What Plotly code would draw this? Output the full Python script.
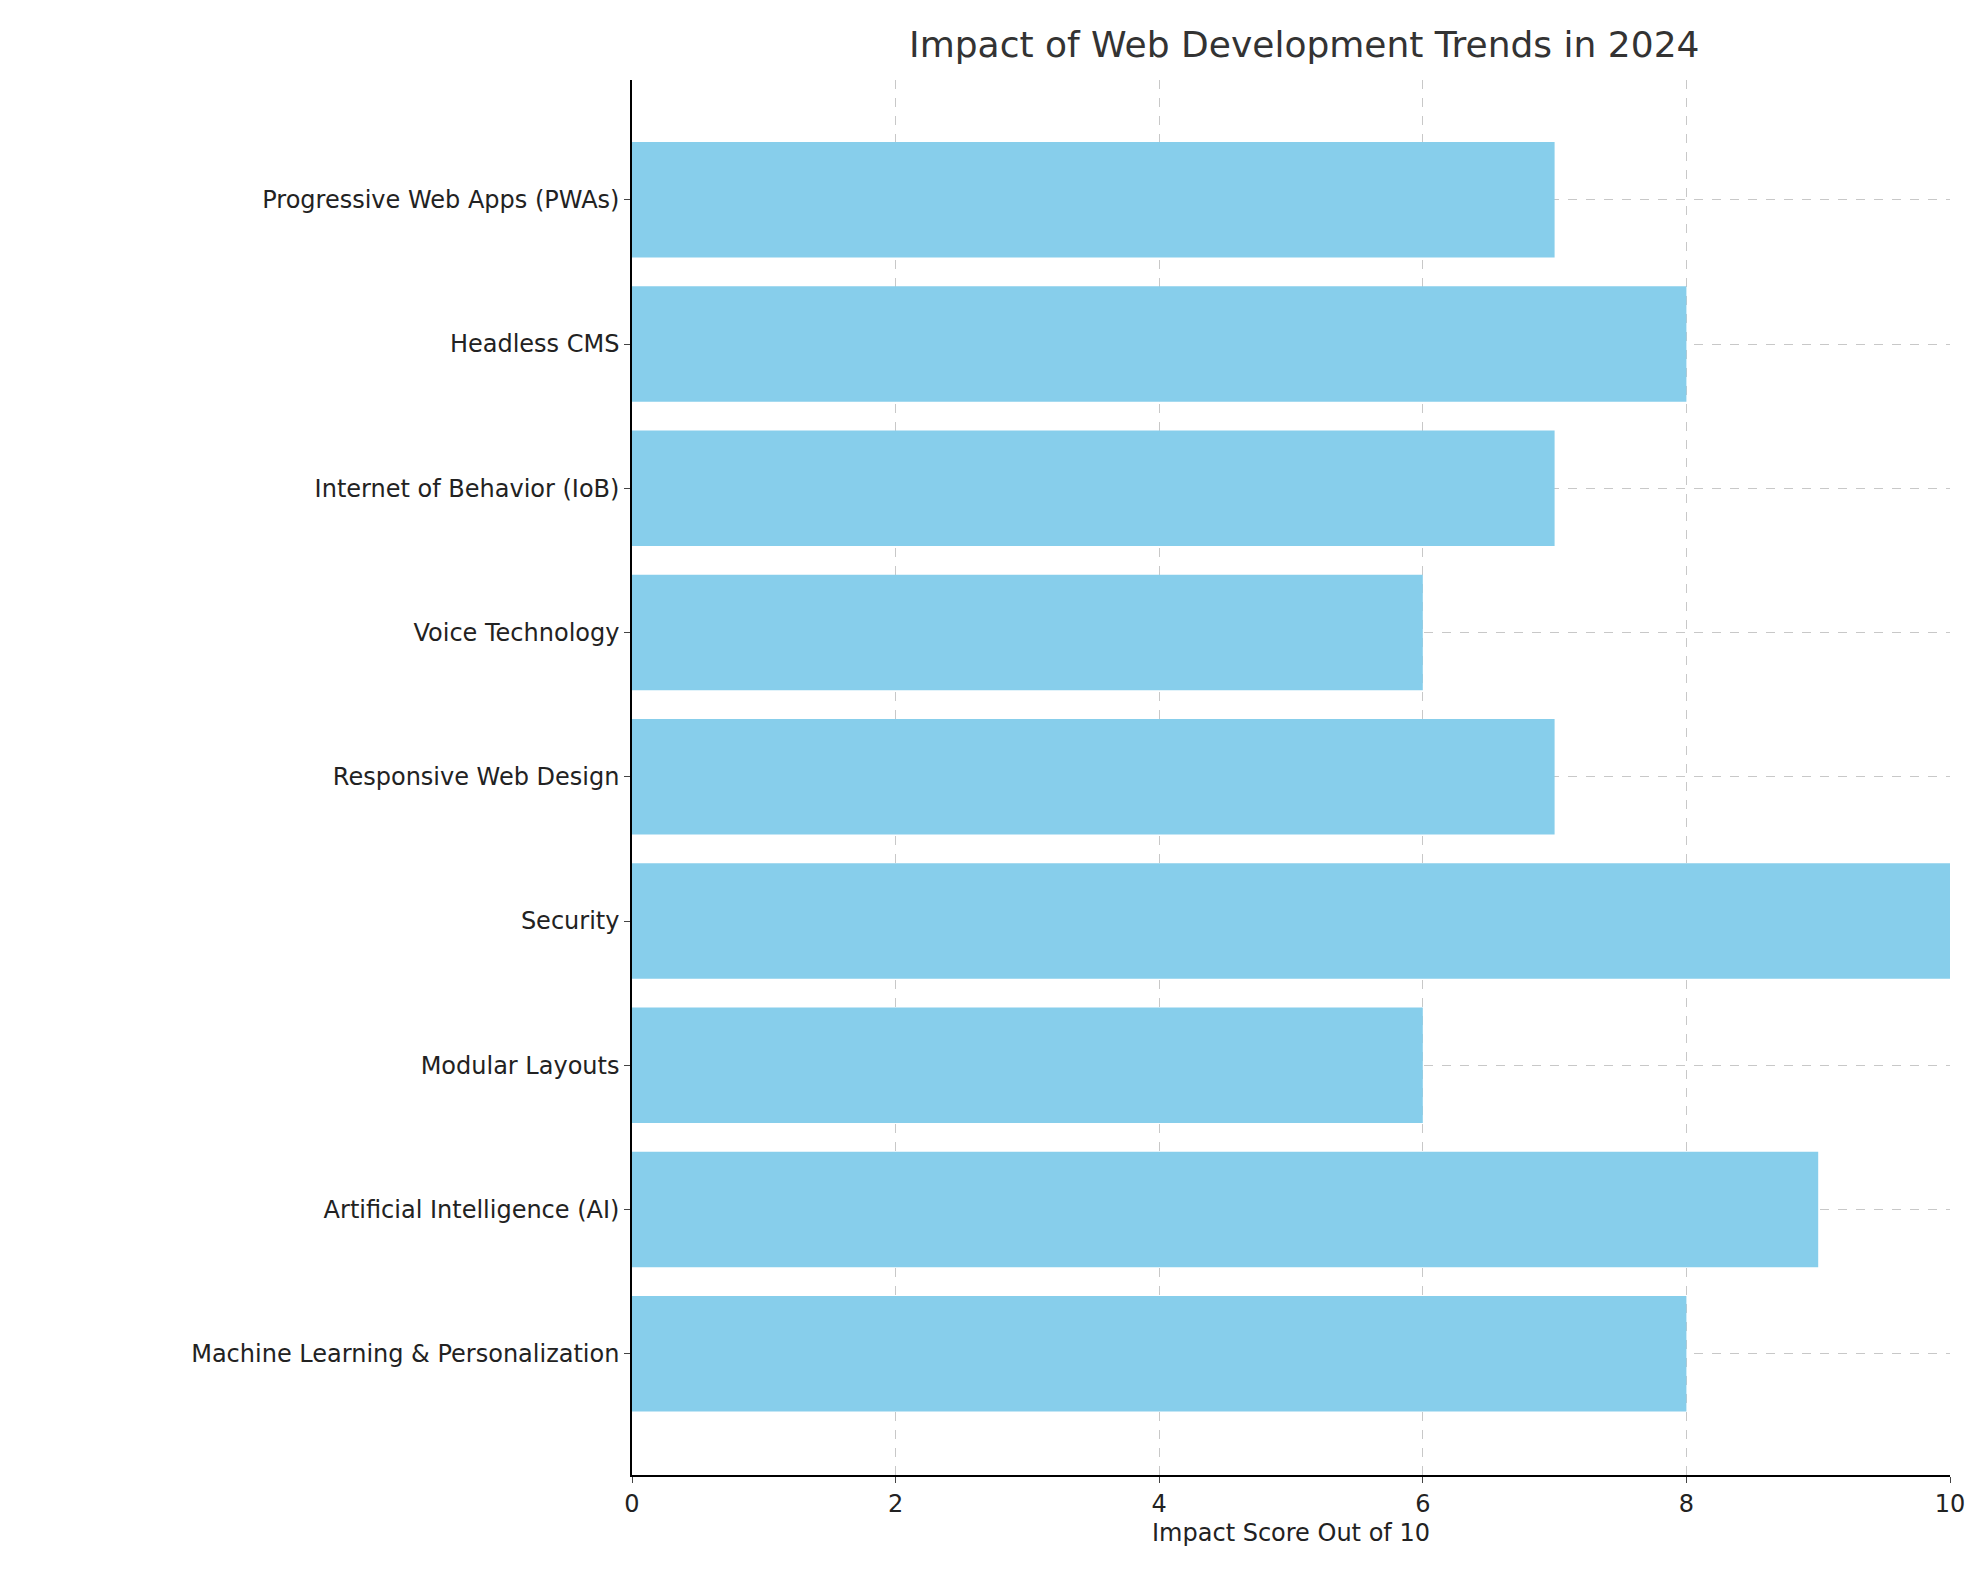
import plotly.graph_objects as go

trends = ["Machine Learning & Personalization", "Artificial Intelligence (AI)", "Modular Layouts",
          "Security", "Responsive Web Design", "Voice Technology",
          "Internet of Behavior (IoB)", "Headless CMS", "Progressive Web Apps (PWAs)"]
scores = [8, 9, 6, 10, 7, 6, 7, 8, 7]

fig = go.Figure()
fig.add_trace(go.Bar(
    x=scores, y=list(range(len(trends))), orientation="h",
    marker=dict(color="#87CEEB", line_width=0), width=0.8,
))

fig.update_layout(
    width=1979, height=1580,
    paper_bgcolor="white", plot_bgcolor="white",
    font=dict(family="DejaVu Sans", size=23, color="#222"),
    title=dict(text="Impact of Web Development Trends in 2024", x=0.655, xanchor="center",
               y=0.985, yanchor="top", font=dict(size=36, color="#333")),
    margin=dict(l=624, r=37, t=72, b=113),
    showlegend=False,
    xaxis=dict(range=[0, 10], dtick=2, showgrid=True, gridcolor="#c8c8c8", griddash="dash",
               showline=True, linecolor="black", linewidth=1.5, ticks="outside", ticklen=6,
               zeroline=False, tickfont=dict(size=24),
               title=dict(text="Impact Score Out of 10", font=dict(size=24), standoff=8)),
    yaxis=dict(range=[-0.84, 8.83], tickmode="array", tickvals=list(range(len(trends))),
               ticktext=trends, showgrid=True, gridcolor="#c8c8c8", griddash="dash",
               showline=True, linecolor="black", linewidth=1.5, ticks="outside", ticklen=6,
               zeroline=False, tickfont=dict(size=24)),
)

fig.write_html("out.html")
